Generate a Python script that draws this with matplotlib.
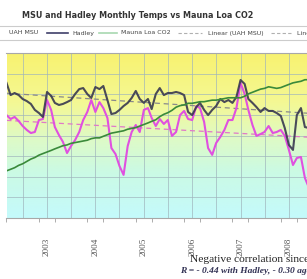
import numpy as np
import pandas as pd
import matplotlib
matplotlib.use("Agg")
import matplotlib.pyplot as plt
import matplotlib.dates as mdates
from matplotlib.colors import LinearSegmentedColormap
from matplotlib.lines import Line2D

# ---------------- data (monthly, Mar 2002 onward) ----------------
months = pd.date_range("2002-03-01", periods=76, freq="MS")

hadley = [0.555, 0.496, 0.506, 0.496, 0.477, 0.467, 0.453, 0.424, 0.409, 0.390,
          0.511, 0.492, 0.458, 0.448, 0.453, 0.462, 0.472, 0.501, 0.525, 0.530,
          0.501, 0.482, 0.535, 0.525, 0.540, 0.472, 0.404, 0.409, 0.424, 0.443,
          0.458, 0.482, 0.516, 0.477, 0.458, 0.477, 0.428, 0.501, 0.530, 0.496,
          0.506, 0.506, 0.511, 0.506, 0.496, 0.414, 0.399, 0.438, 0.458, 0.424,
          0.399, 0.424, 0.443, 0.477, 0.462, 0.472, 0.458, 0.487, 0.569, 0.550,
          0.477, 0.458, 0.438, 0.414, 0.433, 0.419, 0.419, 0.409, 0.395, 0.336,
          0.254, 0.230, 0.399, 0.433, 0.341, 0.336]

uah_msu = [0.399, 0.380, 0.390, 0.370, 0.346, 0.327, 0.312, 0.317, 0.375, 0.380,
           0.472, 0.424, 0.341, 0.302, 0.269, 0.215, 0.249, 0.278, 0.317, 0.375,
           0.414, 0.472, 0.414, 0.462, 0.433, 0.385, 0.239, 0.210, 0.152, 0.109,
           0.249, 0.317, 0.351, 0.317, 0.424, 0.433, 0.385, 0.346, 0.380, 0.356,
           0.375, 0.298, 0.317, 0.399, 0.419, 0.380, 0.375, 0.443, 0.433, 0.366,
           0.239, 0.206, 0.264, 0.293, 0.327, 0.375, 0.375, 0.433, 0.555, 0.501,
           0.424, 0.351, 0.298, 0.307, 0.317, 0.346, 0.312, 0.317, 0.327, 0.298,
           0.230, 0.157, 0.191, 0.196, 0.094, 0.046]

co2_ppm = [373.0, 373.2, 373.4, 373.7, 373.9, 374.2, 374.5, 374.7, 375.0, 375.2,
           375.4, 375.6, 375.8, 376.0, 376.2, 376.3, 376.5, 376.6, 376.7, 376.8,
           376.9, 377.1, 377.2, 377.2, 377.4, 377.6, 377.8, 377.9, 378.0, 378.1,
           378.3, 378.4, 378.5, 378.7, 378.9, 379.1, 379.3, 379.5, 379.9, 380.2,
           380.4, 380.7, 381.1, 381.3, 381.4, 381.6, 381.6, 381.7, 381.8, 381.8,
           381.9, 382.0, 382.0, 382.1, 382.2, 382.3, 382.3, 382.3, 382.3, 382.5,
           382.8, 383.0, 383.2, 383.4, 383.5, 383.7, 383.6, 383.5, 383.6, 383.8,
           384.0, 384.2, 384.3, 384.4, 384.6, 384.6]

legend_labels = ["UAH MSU", "Hadley", "Mauna Loa CO2", "Linear (UAH MSU)", "Linear (Hadley)"]
title = "MSU and Hadley Monthly Temps vs Mauna Loa CO2"
note1 = "Negative correlation since 2002"
note2 = "R = - 0.44 with Hadley, - 0.30 against UAH MSU"

# ---------------- figure ----------------
W, H = 307, 279
fig = plt.figure(figsize=(W / 100, H / 100), dpi=100)
fig.patch.set_facecolor("white")

x0 = pd.Timestamp("2002-03-01")
x1 = pd.Timestamp("2008-08-01")
left_px, right_px, top_px, bot_px = 6.5, 317.1, 53, 218
ax = fig.add_axes([left_px / W, 1 - bot_px / H, (right_px - left_px) / W, (bot_px - top_px) / H])

ax.set_xlim(x0, x1)
ax.set_ylim(-0.1, 0.7)

# gradient background
cmap = LinearSegmentedColormap.from_list("bg", [
    (0.0, (248/255, 242/255, 112/255)),
    (0.30, (244/255, 248/255, 148/255)),
    (0.52, (222/255, 250/255, 198/255)),
    (0.72, (203/255, 250/255, 228/255)),
    (1.0, (196/255, 250/255, 252/255)),
])
grad = np.linspace(0, 1, 256).reshape(-1, 1)
ax.imshow(grad, cmap=cmap, aspect="auto", extent=[0, 1, 0, 1],
          transform=ax.transAxes, zorder=0)

# grid
ax.set_yticks(np.arange(-0.1, 0.71, 0.1))
ax.tick_params(axis="y", length=0, labelleft=False)
ax.xaxis.set_major_locator(mdates.MonthLocator(bymonth=[1, 7]))
ax.xaxis.set_major_formatter(plt.FuncFormatter(
    lambda v, p: mdates.num2date(v).strftime("%Y") if mdates.num2date(v).month == 1 else ""))
ax.xaxis.set_minor_locator(mdates.MonthLocator(bymonth=[3, 7, 11]))
ax.tick_params(axis="x", which="major", length=0, labelsize=6.6, labelcolor="#555555",
               labelrotation=90, pad=14)
for lbl in ax.get_xticklabels():
    lbl.set_family("Liberation Serif")
ax.tick_params(axis="x", which="minor", length=3, color="#a0a0a0", width=0.6)
ax.grid(True, which="major", color="#9fb4bc", linewidth=0.6, alpha=0.8)
for s in ["left", "right"]:
    ax.spines[s].set_visible(False)
for s in ["top", "bottom"]:
    ax.spines[s].set_color("#a8a8a8")
    ax.spines[s].set_linewidth(0.8)

# lines
xn = mdates.date2num(months)
c_uah, c_had, c_co2 = "#e050e0", "#383850", "#3a8a3a"
ax.plot(months, uah_msu, color=c_uah, lw=1.5, zorder=3)
ax.plot(months, hadley, color=c_had, lw=1.5, zorder=4, alpha=0.9)

# linear trends (least-squares, like Excel trendlines)
for series, col in [(uah_msu, "#e078c8"), (hadley, "#8a8a8a")]:
    k, b = np.polyfit(xn, series, 1)
    xx = np.array(ax.get_xlim())
    ax.plot(xx, k * xx + b, color=col, lw=0.9, ls=(0, (4, 3)), zorder=2.5)

ax2 = ax.twinx()
ax2.set_ylim(367, 388)
ax2.plot(months, co2_ppm, color=c_co2, lw=1.2, zorder=3)
ax2.axis("off")
ax.set_xlim(x0, x1)

# title
fig.text(22 / W, 1 - 15 / H, title, fontsize=5.8, family="Liberation Sans Narrow",
         fontweight="bold", color="#333333", va="center", ha="left")

# legend strip (cropped)
for ypx in (26, 40):
    fig.add_artist(Line2D([0, 1], [1 - ypx / H] * 2, transform=fig.transFigure,
                          color="#cccccc", lw=0.8))
ly = 1 - 33 / H
lfont = dict(fontsize=4.5, family="Liberation Sans Narrow", color="#444444", va="center", ha="left")
fig.text(9 / W, ly, legend_labels[0], **lfont)
fig.add_artist(Line2D([47 / W, 68 / W], [ly, ly], transform=fig.transFigure, color="#40406a", lw=1.2))
fig.text(72 / W, ly, legend_labels[1], **lfont)
fig.add_artist(Line2D([99 / W, 117 / W], [ly, ly], transform=fig.transFigure, color="#a8d8b0", lw=1.2))
fig.text(121 / W, ly, legend_labels[2], **lfont)
fig.add_artist(Line2D([178 / W, 202 / W], [ly, ly], transform=fig.transFigure, color="#b0b0b0",
                      lw=0.8, ls=(0, (3, 2))))
fig.text(208 / W, ly, legend_labels[3], **lfont)
fig.add_artist(Line2D([271 / W, 292 / W], [ly, ly], transform=fig.transFigure, color="#b0b0b0",
                      lw=0.8, ls=(0, (3, 2))))
fig.text(297 / W, ly, legend_labels[4], **lfont)

# notes
fig.text(190 / W, 1 - 260 / H, note1, fontsize=8.2, family="Liberation Serif", color="#222222",
         va="center", ha="left")
fig.text(180 / W, 1 - 271 / H, note2, fontsize=6.8, family="Liberation Serif", style="italic",
         fontweight="bold", color="#333355", va="center", ha="left")

fig.savefig("out.png", dpi=100)
